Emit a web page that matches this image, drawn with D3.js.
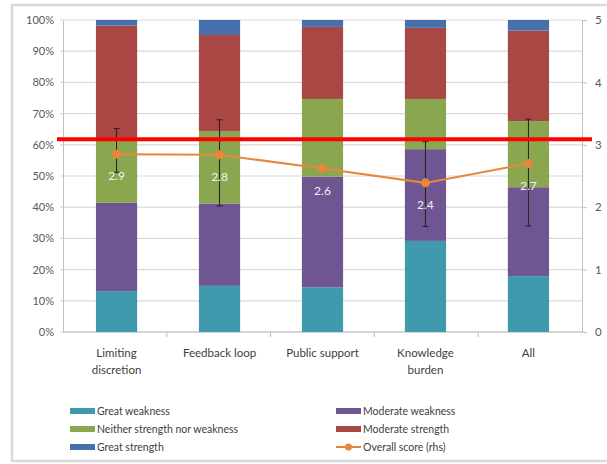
<!DOCTYPE html>
<html>
<head>
<meta charset="utf-8">
<script src="https://cdn.jsdelivr.net/npm/d3@7"></script>
<style>
  body { margin: 0; background: #fff; }
  svg text { font-family: Lato, "Open Sans", sans-serif; }
</style>
</head>
<body>
<div id="chart-div"></div>
<script>
const categories = [['Limiting', 'discretion'], ['Feedback loop'], ['Public support'], ['Knowledge', 'burden'], ['All']];
const seriesNames = ['Great weakness', 'Moderate weakness', 'Neither strength nor weakness', 'Moderate strength', 'Great strength'];
const greatWeakness = [13.1, 14.8, 14.3, 29.2, 17.9];
const moderateWeakness = [28.3, 26.4, 35.5, 29.4, 28.5];
const neither = [20.6, 23.2, 24.9, 16.1, 21.2];
const moderateStrength = [36.2, 30.8, 23.1, 22.8, 29.0];
const greatStrength = [1.8, 4.8, 2.2, 2.5, 3.4];
const overallScore = [2.85, 2.84, 2.62, 2.39, 2.70];
const scoreLabels = ['2.9', '2.8', '2.6', '2.4', '2.7'];
const errUpper = [3.26, 3.40, null, 3.05, 3.41];
const errLower = [2.56, 2.02, null, 1.69, 1.70];
const thresholdPct = 61.8;
const leftTicks = [0, 10, 20, 30, 40, 50, 60, 70, 80, 90, 100];
const rightTicks = [0, 1, 2, 3, 4, 5];

const colors = ['#409aae', '#6f5591', '#8aa64f', '#a94744', '#4570ab'];
const lineColor = '#e8863c';

const w = 607;
const h = 464;
const plotLeft = 63, plotRight = 582, plotTop = 20, plotBottom = 332;

const svg = d3.select('#chart-div')
    .append('svg')
    .attr('width', w)
    .attr('height', h);

// outer frame
svg.append('rect')
    .attr('x', 12).attr('y', 5)
    .attr('width', 610).attr('height', 456)
    .attr('fill', 'none')
    .attr('stroke', '#d9d9d9')
    .attr('stroke-width', 2.5);

const xScale = d3.scaleBand()
    .domain(d3.range(categories.length))
    .range([plotLeft, plotRight])
    .paddingInner(0.6)
    .paddingOuter(0.32);

const yScale = d3.scaleLinear().domain([0, 100]).range([plotBottom, plotTop]);
const yRight = d3.scaleLinear().domain([0, 5]).range([plotBottom, plotTop]);

// gridlines
svg.append('g')
    .selectAll('line')
    .data(leftTicks)
    .enter()
    .append('line')
    .attr('x1', plotLeft - 3).attr('x2', plotRight)
    .attr('y1', d => yScale(d)).attr('y2', d => yScale(d))
    .attr('stroke', '#d9d9d9')
    .attr('stroke-width', 1.2);

// left axis
const yAxis = d3.axisLeft(yScale).tickValues(leftTicks).tickFormat(d => d + '%').tickSize(0).tickPadding(9);
const gl = svg.append('g').attr('transform', 'translate(' + plotLeft + ',0)').call(yAxis);
gl.select('.domain').attr('stroke', '#bfbfbf');
gl.selectAll('text').attr('font-size', 11).attr('fill', '#595959');

// right axis
const yAxisR = d3.axisRight(yRight).tickValues(rightTicks).tickFormat(d3.format('d')).tickSize(5).tickPadding(8);
const gr = svg.append('g').attr('transform', 'translate(' + plotRight + ',0)').call(yAxisR);
gr.select('.domain').attr('stroke', '#bfbfbf');
gr.selectAll('line').attr('stroke', '#bfbfbf');
gr.selectAll('text').attr('font-size', 11.5).attr('fill', '#595959');

// bottom axis with ticks between categories
const xTicks = d3.scaleLinear().domain([0, categories.length]).range([plotLeft, plotRight]);
svg.append('line')
    .attr('x1', plotLeft).attr('x2', plotRight)
    .attr('y1', plotBottom).attr('y2', plotBottom)
    .attr('stroke', '#bfbfbf');
svg.append('g')
    .selectAll('line')
    .data(d3.range(1, categories.length))
    .enter()
    .append('line')
    .attr('x1', d => xTicks(d)).attr('x2', d => xTicks(d))
    .attr('y1', plotBottom).attr('y2', plotBottom + 5)
    .attr('stroke', '#bfbfbf');

// category labels
const catG = svg.append('g')
    .selectAll('text')
    .data(categories)
    .enter()
    .append('text')
    .attr('text-anchor', 'middle')
    .attr('font-size', 11.5)
    .attr('fill', '#404040');
catG.selectAll('tspan')
    .data((d, i) => d.map(s => ({ s: s, i: i })))
    .enter()
    .append('tspan')
    .attr('x', d => xScale(d.i) + xScale.bandwidth() / 2)
    .attr('y', (d, j) => plotBottom + 25 + j * 17)
    .text(d => d.s);

// stacked bars
const rows = categories.map((c, i) => ({
    i: i,
    s0: greatWeakness[i], s1: moderateWeakness[i], s2: neither[i], s3: moderateStrength[i], s4: greatStrength[i]
}));
const stack = d3.stack().keys(['s0', 's1', 's2', 's3', 's4']);
const stacked = stack(rows);

svg.append('g')
    .selectAll('g')
    .data(stacked)
    .enter()
    .append('g')
    .attr('fill', (d, k) => colors[k])
    .selectAll('rect')
    .data(d => d)
    .enter()
    .append('rect')
    .attr('x', d => xScale(d.data.i))
    .attr('width', xScale.bandwidth())
    .attr('y', d => yScale(d[1]))
    .attr('height', d => yScale(d[0]) - yScale(d[1]));

// error bars
const errData = d3.range(categories.length).filter(i => errUpper[i] !== null);
svg.append('g')
    .selectAll('line')
    .data(errData)
    .enter()
    .append('line')
    .attr('x1', i => xScale(i) + xScale.bandwidth() / 2)
    .attr('x2', i => xScale(i) + xScale.bandwidth() / 2)
    .attr('y1', i => yRight(errUpper[i]))
    .attr('y2', i => yRight(errLower[i]))
    .attr('stroke', '#222')
    .attr('stroke-width', 1);
[errUpper, errLower].forEach(arr => {
    svg.append('g')
        .selectAll('line')
        .data(errData)
        .enter()
        .append('line')
        .attr('x1', i => xScale(i) + xScale.bandwidth() / 2 - 3)
        .attr('x2', i => xScale(i) + xScale.bandwidth() / 2 + 3)
        .attr('y1', i => yRight(arr[i]))
        .attr('y2', i => yRight(arr[i]))
        .attr('stroke', '#222')
        .attr('stroke-width', 1);
});

// threshold red line
svg.append('line')
    .attr('x1', 57).attr('x2', 592)
    .attr('y1', yScale(thresholdPct)).attr('y2', yScale(thresholdPct))
    .attr('stroke', '#ff0000')
    .attr('stroke-width', 4);

// overall score line
const line = d3.line()
    .x((d, i) => xScale(i) + xScale.bandwidth() / 2)
    .y(d => yRight(d));
svg.append('path')
    .datum(overallScore)
    .attr('d', line)
    .attr('fill', 'none')
    .attr('stroke', lineColor)
    .attr('stroke-width', 2);
svg.append('g')
    .selectAll('circle')
    .data(overallScore)
    .enter()
    .append('circle')
    .attr('cx', (d, i) => xScale(i) + xScale.bandwidth() / 2)
    .attr('cy', d => yRight(d))
    .attr('r', 4.5)
    .attr('fill', lineColor);

svg.append('g')
    .selectAll('text')
    .data(overallScore)
    .enter()
    .append('text')
    .attr('x', (d, i) => xScale(i) + xScale.bandwidth() / 2)
    .attr('y', d => yRight(d) + 26)
    .attr('text-anchor', 'middle')
    .attr('font-size', 12)
    .attr('fill', '#f2f2f2')
    .text((d, i) => scoreLabels[i]);

// legend
const legendItems = [
    { name: seriesNames[0], color: colors[0], col: 0, row: 0 },
    { name: seriesNames[1], color: colors[1], col: 1, row: 0 },
    { name: seriesNames[2], color: colors[2], col: 0, row: 1 },
    { name: seriesNames[3], color: colors[3], col: 1, row: 1 },
    { name: seriesNames[4], color: colors[4], col: 0, row: 2 },
    { name: 'Overall score (rhs)', color: lineColor, col: 1, row: 2, line: true }
];
const legend = svg.append('g')
    .selectAll('g')
    .data(legendItems)
    .enter()
    .append('g')
    .attr('transform', d => 'translate(' + (d.col ? 336 : 70) + ',' + (411 + d.row * 18) + ')');
legend.filter(d => !d.line)
    .append('rect')
    .attr('x', 0).attr('y', -3)
    .attr('width', 25).attr('height', 6)
    .attr('fill', d => d.color);
legend.filter(d => d.line)
    .append('line')
    .attr('x1', 0).attr('x2', 25)
    .attr('y1', 0).attr('y2', 0)
    .attr('stroke', d => d.color)
    .attr('stroke-width', 2);
legend.filter(d => d.line)
    .append('circle')
    .attr('cx', 12.5).attr('cy', 0).attr('r', 3.5)
    .attr('fill', d => d.color);
legend.append('text')
    .attr('x', 27)
    .attr('y', 4)
    .attr('font-size', 10.5)
    .attr('fill', '#404040')
    .text(d => d.name);
</script>
</body>
</html>
